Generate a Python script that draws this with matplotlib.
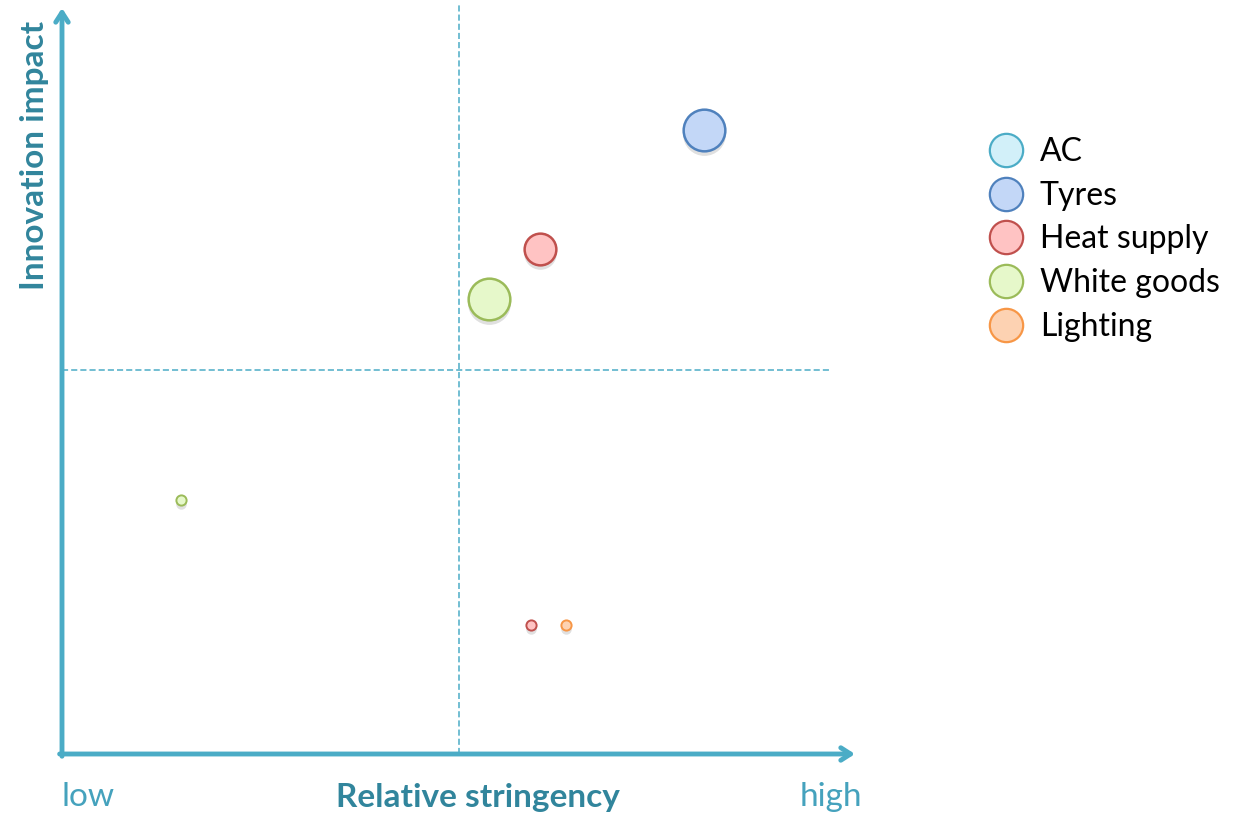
import matplotlib.pyplot as plt
from matplotlib.lines import Line2D
from matplotlib.transforms import offset_copy

plt.rcParams['font.family'] = ['Lato', 'DejaVu Sans']

# sectors in the legend, with Office-style fill / outline colours
sectors = ['AC', 'Tyres', 'Heat supply', 'White goods', 'Lighting']
fill_colors = {'AC': '#d2f0f9', 'Tyres': '#c3d7f7', 'Heat supply': '#ffc3c3',
               'White goods': '#e6f8ca', 'Lighting': '#fdd2b2'}
edge_colors = {'AC': '#4bacc6', 'Tyres': '#4f81bd', 'Heat supply': '#c0504d',
               'White goods': '#9bbb59', 'Lighting': '#f79646'}

# bubbles: stringency (x), innovation impact (y), bubble size
bubble_sector = ['Tyres', 'Heat supply', 'White goods', 'White goods', 'Heat supply', 'Lighting']
stringency = [0.81, 0.603, 0.539, 0.150, 0.592, 0.635]
impact = [0.836, 0.677, 0.610, 0.340, 0.173, 0.173]
bubble_size = [100, 58, 100, 6, 6, 6]

W, H = 1236, 816
fig = plt.figure(figsize=(W / 100, H / 100), dpi=100)
ax = fig.add_axes([62 / W, 62 / H, 793 / W, 746 / H])
ax.set_xlim(0, 1)
ax.set_ylim(0, 1)
ax.axis('off')

axis_col = '#4bacc6'

# quadrant dividers
ax.plot([0.5, 0.5], [0, 1.004], color=axis_col, lw=1.1, ls=(0, (4, 2)), clip_on=False)
ax.plot([0, 0.971], [0.515, 0.515], color=axis_col, lw=1.1, ls=(0, (4, 2)), clip_on=False)

# axes arrows
arrow = dict(arrowstyle='->,head_length=0.7,head_width=0.45', color=axis_col, lw=3.5,
             shrinkA=0, shrinkB=0)
ax.annotate('', xy=(1, 0), xytext=(-0.003, 0), xycoords='axes fraction', arrowprops=arrow)
ax.annotate('', xy=(0, 1), xytext=(0, -0.003), xycoords='axes fraction', arrowprops=arrow)

# bubbles with a soft drop shadow
shadow = offset_copy(ax.transData, fig=fig, x=0, y=-4, units='dots')
for sec, x, y, s in zip(bubble_sector, stringency, impact, bubble_size):
    ax.scatter(x, y, s=s * 9.5, color='#000000', alpha=0.12, lw=0, transform=shadow, zorder=3)
    ax.scatter(x, y, s=s * 9, facecolor=fill_colors[sec], edgecolor=edge_colors[sec],
               lw=1.8 if s > 20 else 1.4, zorder=4)

# legend
handles = [Line2D([], [], marker='o', ls='', markersize=24, markerfacecolor=fill_colors[s],
                  markeredgecolor=edge_colors[s], markeredgewidth=1.6) for s in sectors]
fig.legend(handles, sectors, loc='upper left', bbox_to_anchor=(990 / W, 1 - 137 / H),
           frameon=False, fontsize=23, borderpad=0, borderaxespad=0, handlelength=1.03,
           handletextpad=0.53, labelspacing=0.43)

# axis captions
label_col = '#31859c'
fig.text(35 / W, 1 - 155 / H, 'Innovation impact', rotation=90, ha='center', va='center',
         fontsize=24, fontweight='bold', color=label_col)
fig.text(478 / W, 1 - 797 / H, 'Relative stringency', ha='center', va='center',
         fontsize=24, fontweight='bold', color=label_col)
fig.text(88 / W, 1 - 797 / H, 'low', ha='center', va='center', fontsize=24, color='#45a2bd')
fig.text(831 / W, 1 - 797 / H, 'high', ha='center', va='center', fontsize=24, color='#45a2bd')

fig.savefig('out.png', dpi=100)
